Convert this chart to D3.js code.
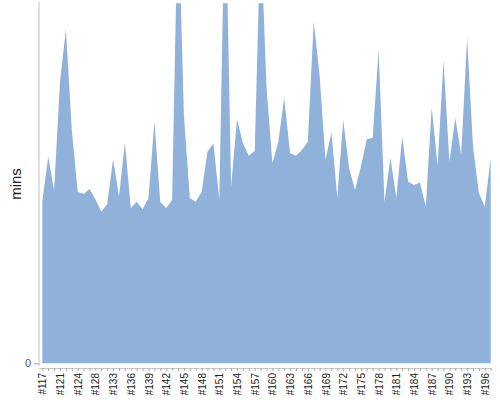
<!DOCTYPE html>
<html><head><meta charset="utf-8">
<script src="https://cdn.jsdelivr.net/npm/d3@7"></script>
<style>body{margin:0;background:#fff;}svg{display:block;font-family:"Liberation Sans",Arial,sans-serif;}</style>
</head><body>
<svg id="c" width="500" height="400"></svg>
<script>
const categories = ["#117","#118","#119","#121","#122","#123","#124","#125","#126","#128","#129","#130",
"#133","#134","#135","#136","#137","#138","#139","#140","#141","#142","#143","#144","#145","#146","#147",
"#148","#149","#150","#151","#152","#153","#154","#155","#156","#157","#158","#159","#160","#161","#162",
"#163","#164","#165","#166","#167","#168","#169","#170","#171","#172","#173","#174","#175","#176","#177",
"#178","#179","#180","#181","#182","#183","#184","#185","#186","#187","#188","#189","#190","#191","#192",
"#193","#194","#195","#196","#197"];
const minsValues = [40.4,51.7,43.2,70.4,83.5,58.3,42.9,42.3,43.6,41.0,37.9,39.8,
51.0,41.7,55.2,38.8,40.4,38.5,41.3,60.4,40.3,38.8,40.8,115.8,62.1,41.3,40.4,
42.8,52.9,55.0,40.8,120.8,44.2,61.0,55.1,51.9,53.1,108.3,69.1,50.0,55.4,66.3,
52.5,51.9,53.3,55.4,85.4,72.1,50.8,57.7,41.5,60.8,48.8,43.3,49.2,56.0,56.4,
78.3,40.4,51.3,41.3,56.7,45.4,44.6,45.2,39.2,64.0,49.4,75.7,50.3,61.4,52.1,
81.3,54.2,42.5,39.2,51.3];
const yDomain = [0, 90];
const yTickValues = [0];
const yTitle = "mins";

const svg = d3.select("#c");
const mLeft = 39, mTop = 3.3, mBottom = 363.3, mRight = 491;
const x = d3.scalePoint().domain(categories).range([42.3, 490.7]);
const y = d3.scaleLinear().domain(yDomain).range([mBottom, mTop]);

svg.append("clipPath").attr("id","clip").append("rect")
  .attr("x", mLeft).attr("y", mTop).attr("width", mRight - mLeft).attr("height", mBottom - mTop + 1);

const data = categories.map((c,i)=>({c, v:minsValues[i]}));
const area = d3.area().x(d=>x(d.c)).y0(y(0)).y1(d=>y(d.v));
svg.append("path").datum(data).attr("clip-path","url(#clip)")
  .attr("d", area).attr("fill", "#8fb1da");

// y axis
const yAxis = svg.append("g").attr("transform",`translate(${mLeft},0)`)
  .call(d3.axisLeft(y).tickValues(yTickValues).tickSize(5).tickPadding(3).tickFormat(d3.format("d")));
yAxis.select(".domain").remove();
yAxis.append("line").attr("x1",0).attr("x2",0).attr("y1",2).attr("y2",366).attr("stroke","#c0c0c0");
yAxis.selectAll(".tick line").attr("stroke","#999");
yAxis.selectAll(".tick text").attr("fill","#555").attr("font-size",11).attr("font-family","Liberation Sans, Arial, sans-serif");

// x axis
const xAxis = svg.append("g").attr("transform",`translate(0,368)`)
  .call(d3.axisBottom(x).tickSize(3).tickFormat((d,i)=> i%3===0 ? d : ""));
xAxis.select(".domain").attr("stroke","#c8c8c8").attr("d", `M${mLeft},0.5H${mRight}`);
xAxis.selectAll(".tick line").attr("stroke","#aaa");
xAxis.selectAll(".tick text")
  .attr("transform","rotate(-90)")
  .attr("text-anchor","end")
  .attr("x",-5).attr("y",0).attr("dy","0.35em")
  .attr("fill","#222").attr("font-size",10).attr("font-family","Liberation Sans, Arial, sans-serif");

svg.append("text").attr("transform","translate(21,184) rotate(-90)")
  .attr("text-anchor","middle").attr("font-size",15).attr("fill","#222").text(yTitle);
</script>
</body></html>
